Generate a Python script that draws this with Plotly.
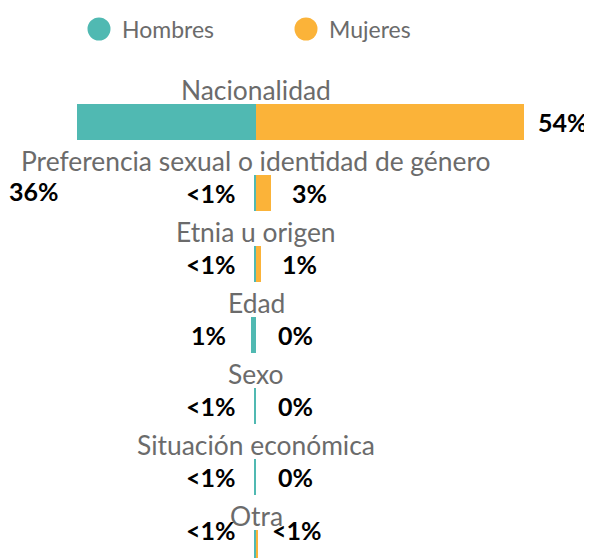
import plotly.graph_objects as go

categories = ["Nacionalidad", "Preferencia sexual o identidad de género", "Etnia u origen",
              "Edad", "Sexo", "Situación económica", "Otra"]
hombres = [36, 0.4, 0.5, 1, 0.4, 0.4, 0.4]
mujeres = [54, 3, 1, 0, 0, 0, 0.4]
hombres_labels = ["36%", "<1%", "<1%", "1%", "<1%", "<1%", "<1%"]
mujeres_labels = ["54%", "3%", "1%", "0%", "0%", "0%", "<1%"]
series_names = ["Hombres", "Mujeres"]

TEAL = "#50B9B2"
ORANGE = "#FBB339"
GRAY = "#6B6B6B"
FONT = "Lato"

# page body has an 8px margin: figure covers window area from (8,8)
OFF = 8
W, H = 592 - OFF, 558 - OFF

rows = list(range(len(categories)))

fig = go.Figure()
fig.add_trace(go.Bar(y=rows, x=[-v for v in hombres], orientation="h", marker_color=TEAL,
                     marker_line_width=0, width=0.507, name=series_names[0], showlegend=False,
                     hoverinfo="skip"))
fig.add_trace(go.Bar(y=rows, x=mujeres, orientation="h", marker_color=ORANGE,
                     marker_line_width=0, width=0.507, name=series_names[1], showlegend=False,
                     hoverinfo="skip"))

ann = []
n = len(categories)
for i, cat in enumerate(categories):
    ann.append(dict(x=0, y=i, text=cat, showarrow=False, xanchor="center", yanchor="middle",
                    yshift=32, font=dict(family=FONT, size=26.4, color=GRAY)))
    ys_h = -69 if i == 0 else (18 if i == n - 1 else 0)
    ys_m = 18 if i == n - 1 else 0
    ann.append(dict(x=-hombres[i], y=i, text=f"<b>{hombres_labels[i]}</b>", showarrow=False,
                    xanchor="center", yanchor="middle", xshift=-43, yshift=ys_h,
                    font=dict(family=FONT, size=25, color="black")))
    ann.append(dict(x=mujeres[i], y=i, text=f"<b>{mujeres_labels[i]}</b>", showarrow=False,
                    xanchor="center", yanchor="middle", xshift=39, yshift=ys_m,
                    font=dict(family=FONT, size=25, color="black")))

# manual legend (circle markers)
legend_items = [(series_names[0], TEAL, 99 - OFF), (series_names[1], ORANGE, 306 - OFF)]
shapes = []
cy = 29 - OFF
r = 11.5
for name, col, cx in legend_items:
    shapes.append(dict(type="circle", xref="paper", yref="paper",
                       x0=(cx - r) / W, x1=(cx + r) / W,
                       y0=1 - (cy + r) / H, y1=1 - (cy - r) / H,
                       fillcolor=col, line_width=0))
    ann.append(dict(xref="paper", yref="paper", x=(cx + 21) / W, y=1 - cy / H, text=name,
                    showarrow=False, xanchor="left", yanchor="middle",
                    font=dict(family=FONT, size=23, color=GRAY)))

px_per = 4.96
center = 256 - OFF
spacing = 71.0
y0 = 122 - OFF
fig.update_layout(
    width=W, height=H,
    margin=dict(l=0, r=0, t=0, b=0),
    paper_bgcolor="white", plot_bgcolor="white",
    barmode="relative", bargap=0,
    xaxis=dict(range=[-center / px_per, (W - center) / px_per], visible=False, fixedrange=True),
    yaxis=dict(range=[(H - y0) / spacing, -y0 / spacing], visible=False, fixedrange=True),
    annotations=ann, shapes=shapes,
)
fig.write_html("out.html")
